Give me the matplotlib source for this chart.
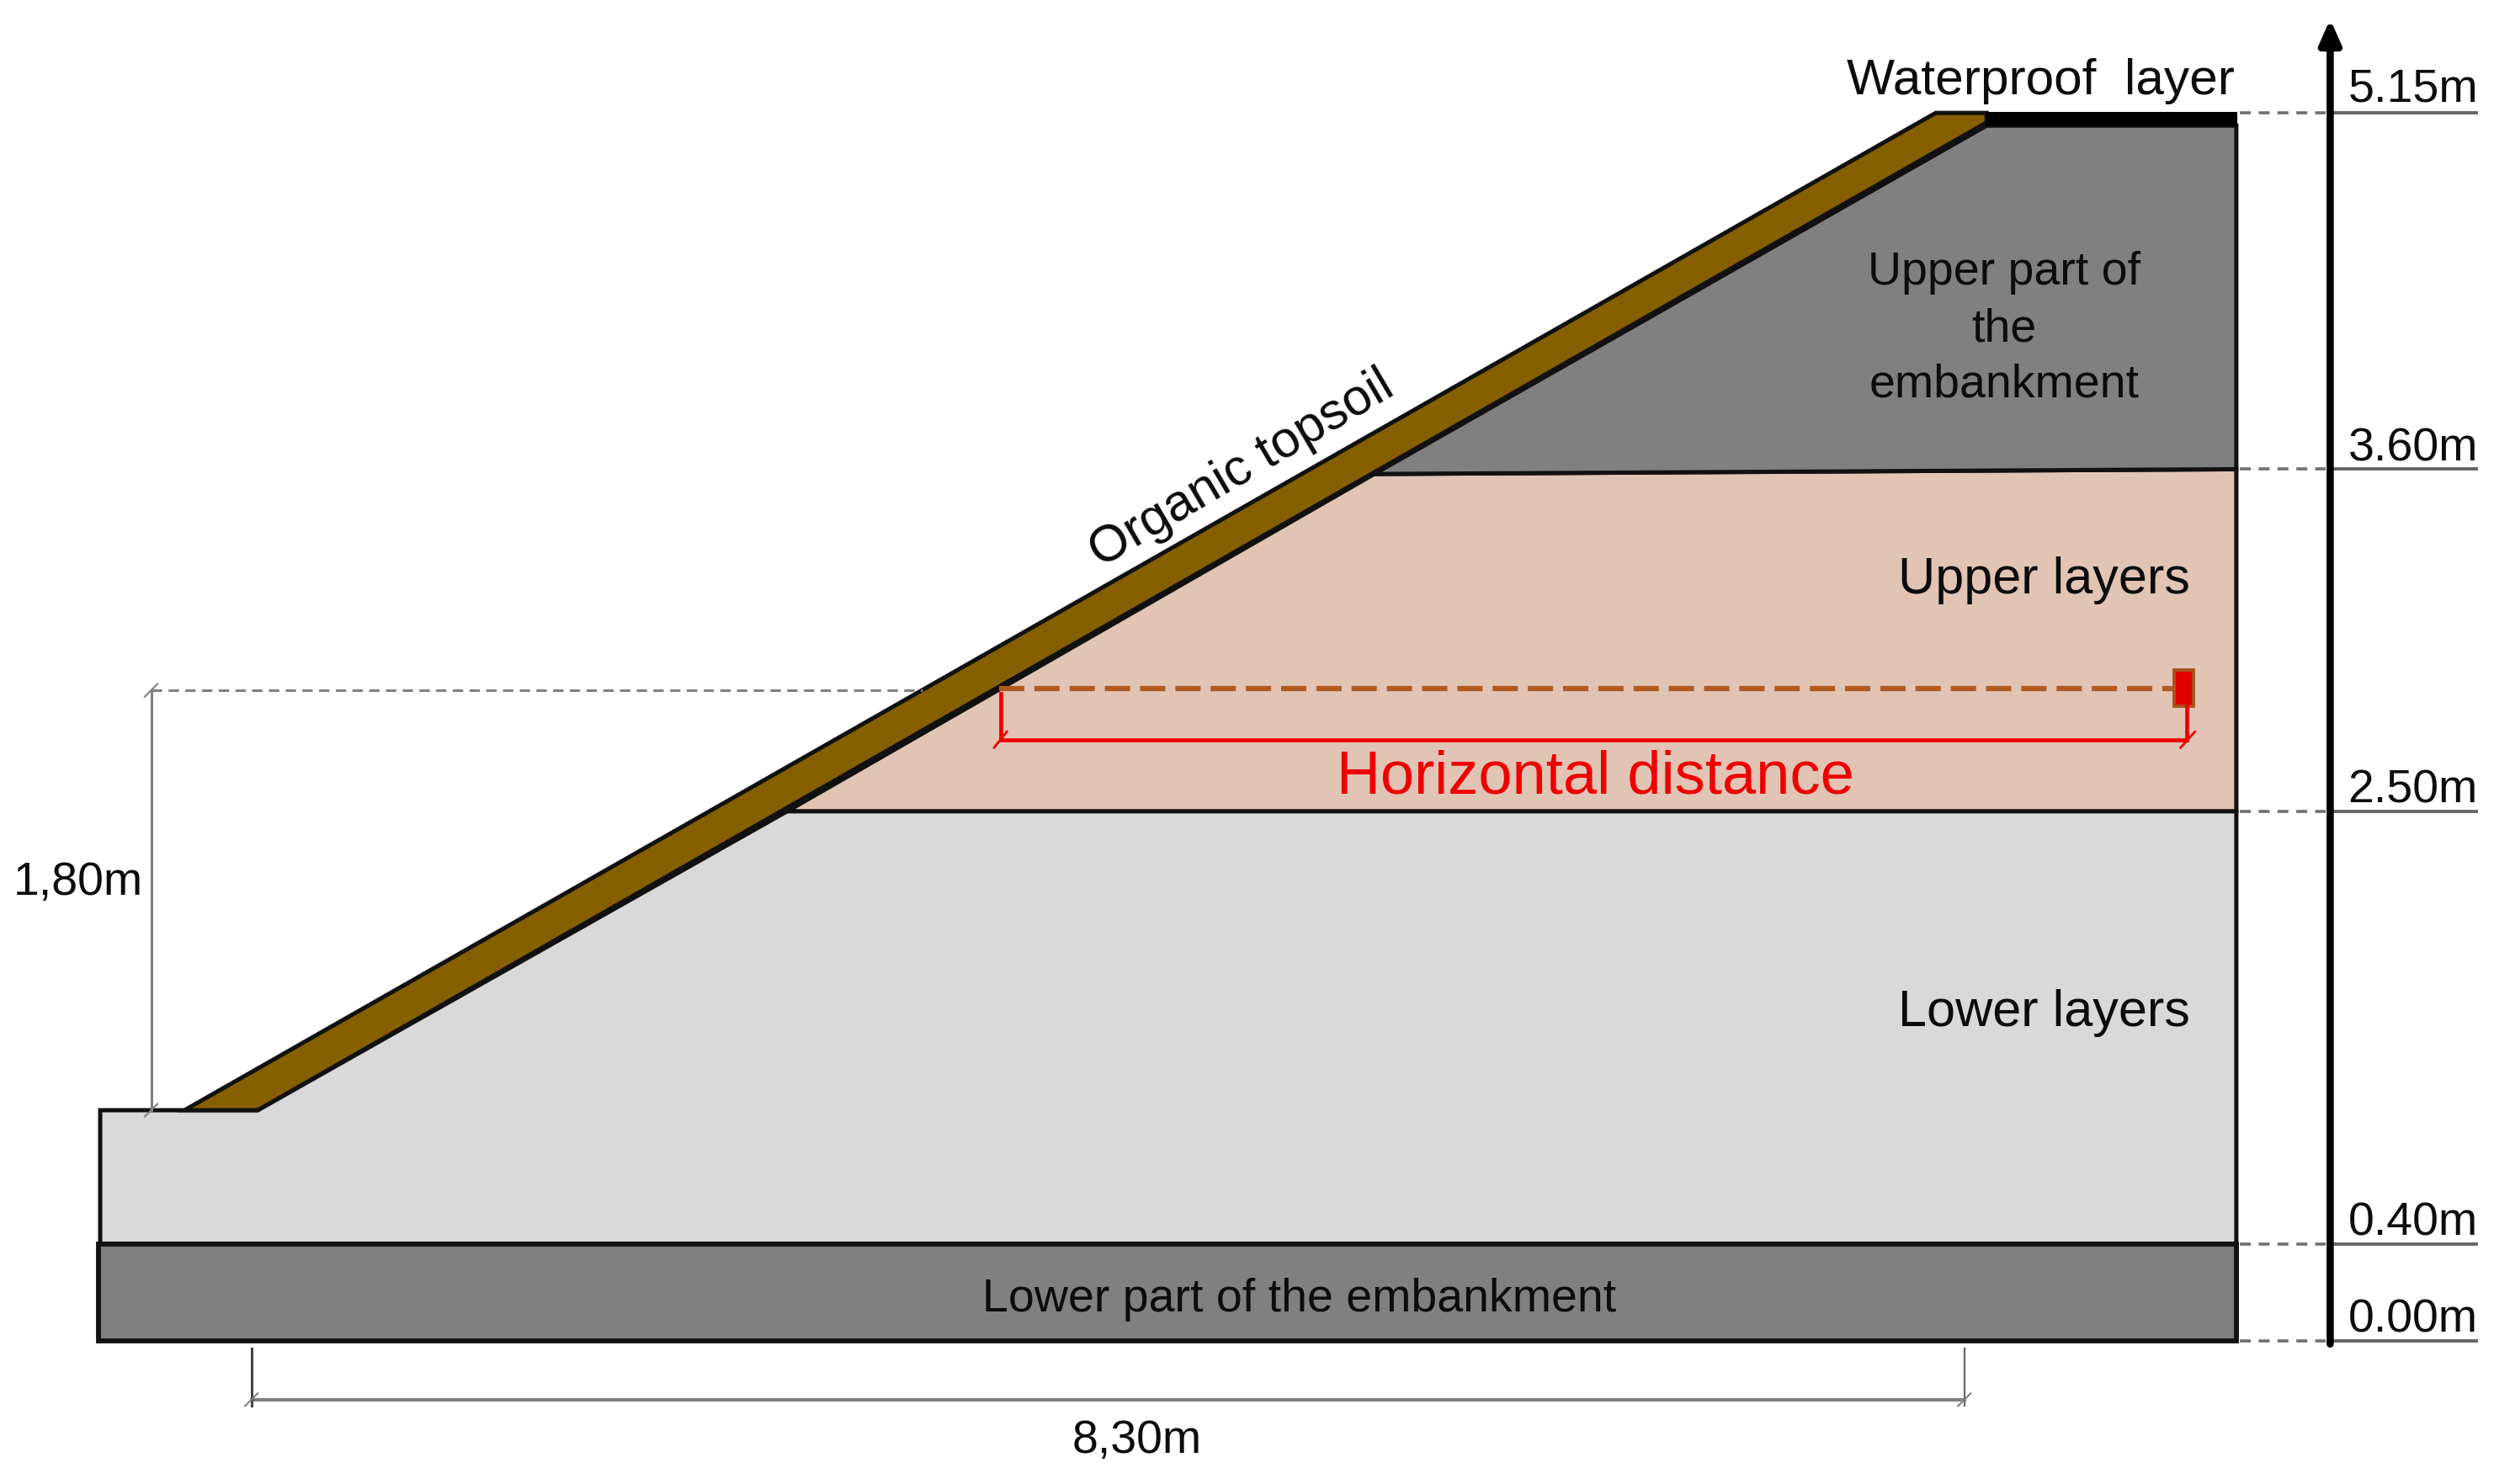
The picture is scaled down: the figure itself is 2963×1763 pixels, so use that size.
import matplotlib
matplotlib.use('Agg')
import matplotlib.pyplot as plt
from matplotlib.patches import Polygon

plt.rcParams['font.family'] = ['Liberation Sans', 'DejaVu Sans']

slab_x = [62, 1406, 1406, 62]
slab_y = [782, 782, 843, 843]
lower_x = [63, 162, 495, 1406, 1406, 63]
lower_y = [698, 698, 510, 510, 782, 782]
upper_x = [495, 864, 1406, 1406]
upper_y = [510, 298, 295, 510]
top_x = [864, 1249, 1406, 1406]
top_y = [298, 79, 79, 295]
water_x = [1249, 1406, 1406, 1249]
water_y = [71, 71, 79, 79]
soil_x = [116, 1217, 1249, 1249, 162]
soil_y = [698, 71, 71, 77, 698]

level_y = [71, 295, 510, 782, 843]
level_label_y = [70, 296, 511, 783, 844]
level_labels = ['5.15m', '3.60m', '2.50m', '0.40m', '0.00m']

dim_h_x = [95, 580]
dim_h_y = [434, 434]
dim_v_x = [95, 95]
dim_v_y = [434, 698]
base_x = [158, 1235]
base_y = [880, 880]
base_tick_y = [848, 884]

sensor_x = [1367, 1379, 1379, 1367]
sensor_y = [421, 421, 444, 444]
level_line_x = [628, 1367]
level_line_y = [433, 433]
red_x = [629, 629, 1375, 1375]
red_y = [436, 465, 465, 444]

LINE = '#111111'
GREY = '#808080'
TEXT = '#0c0c0c'

fig = plt.figure(figsize=(29.63, 17.63), dpi=100)
ax = fig.add_axes([0, 0, 1, 1])
ax.set_xlim(0, 1568)
ax.set_ylim(933, 0)
ax.axis('off')


def shape(xs, ys, color, lw=3.6, edge=LINE):
    ax.add_patch(Polygon(list(zip(xs, ys)), closed=True, facecolor=color, edgecolor=edge, linewidth=lw, joinstyle='miter'))


shape(lower_x, lower_y, '#D9D9D9')
shape(upper_x, upper_y, '#E2C4B5')
shape(top_x, top_y, '#808080')
shape(slab_x, slab_y, '#808080', lw=4.2)
shape(soil_x, soil_y, '#866000')
shape(water_x, water_y, '#000000', lw=1.5, edge='#000000')

# levels on the right
for y, y_lab, lab in zip(level_y, level_label_y, level_labels):
    ax.plot([1408, 1462], [y, y], color='#707070', lw=2.6, dashes=(3.6, 2.6))
    ax.plot([1468, 1557], [y, y], color='#666666', lw=2.8)
    ax.text(1517, y_lab, lab, ha='center', va='bottom', fontsize=40, color=TEXT)

ax.annotate('', xy=(1465, 12), xytext=(1465, 845),
            arrowprops=dict(arrowstyle='-|>,head_width=0.75,head_length=1.7', color='black', lw=6.2, shrinkA=0, shrinkB=0))

# height dimension
ax.plot(dim_h_x, dim_h_y, color=GREY, lw=2.2, dashes=(4, 2.5))
ax.plot(dim_v_x, dim_v_y, color=GREY, lw=2.2)
ax.plot([91, 99], [438, 430], color=GREY, lw=1.5)
ax.plot([91, 99], [702, 694], color=GREY, lw=1.5)
ax.text(49, 555, '1,80m', ha='center', va='center', fontsize=40, color=TEXT)

# base dimension
ax.plot(base_x, base_y, color=GREY, lw=3)
ax.plot([base_x[0]] * 2, base_tick_y, color='#444444', lw=2.2)
ax.plot([base_x[1]] * 2, base_tick_y, color='#666666', lw=1.6)
ax.plot([154, 162], [884, 876], color=GREY, lw=1.5)
ax.plot([1231, 1239], [884, 876], color=GREY, lw=1.5)
ax.text(715, 906, '8,30m', ha='center', va='center', fontsize=40, color=TEXT)

# horizontal distance
ax.plot(level_line_x, level_line_y, color='#B05A20', lw=4.5, dashes=(4.8, 1.9))
ax.plot(red_x, red_y, color='#EE0000', lw=3.4, solid_joinstyle='miter')
ax.plot([625, 633], [470, 460], color='#EE0000', lw=2)
ax.plot([1371, 1380], [470, 460], color='#EE0000', lw=2)
shape(sensor_x, sensor_y, '#E00000', lw=2.8, edge='#A8521E')
ax.text(1003, 489, 'Horizontal distance', ha='center', va='center', fontsize=52, color='#EE0000')

# layer names
ax.text(1283, 51, 'Waterproof  layer', ha='center', va='center', fontsize=43.5, color=TEXT)
ax.text(1260, 207, 'Upper part of\nthe\nembankment', ha='center', va='center', fontsize=40, color=TEXT, linespacing=1.37)
ax.text(1285, 365, 'Upper layers', ha='center', va='center', fontsize=44, color=TEXT)
ax.text(1285, 637, 'Lower layers', ha='center', va='center', fontsize=44, color=TEXT)
ax.text(817, 817, 'Lower part of the embankment', ha='center', va='center', fontsize=40, color=TEXT)
ax.text(781, 295, 'Organic topsoil', ha='center', va='center', rotation=30.5, rotation_mode='anchor', fontsize=44, color=TEXT)

fig.savefig('out.png', dpi=100)
